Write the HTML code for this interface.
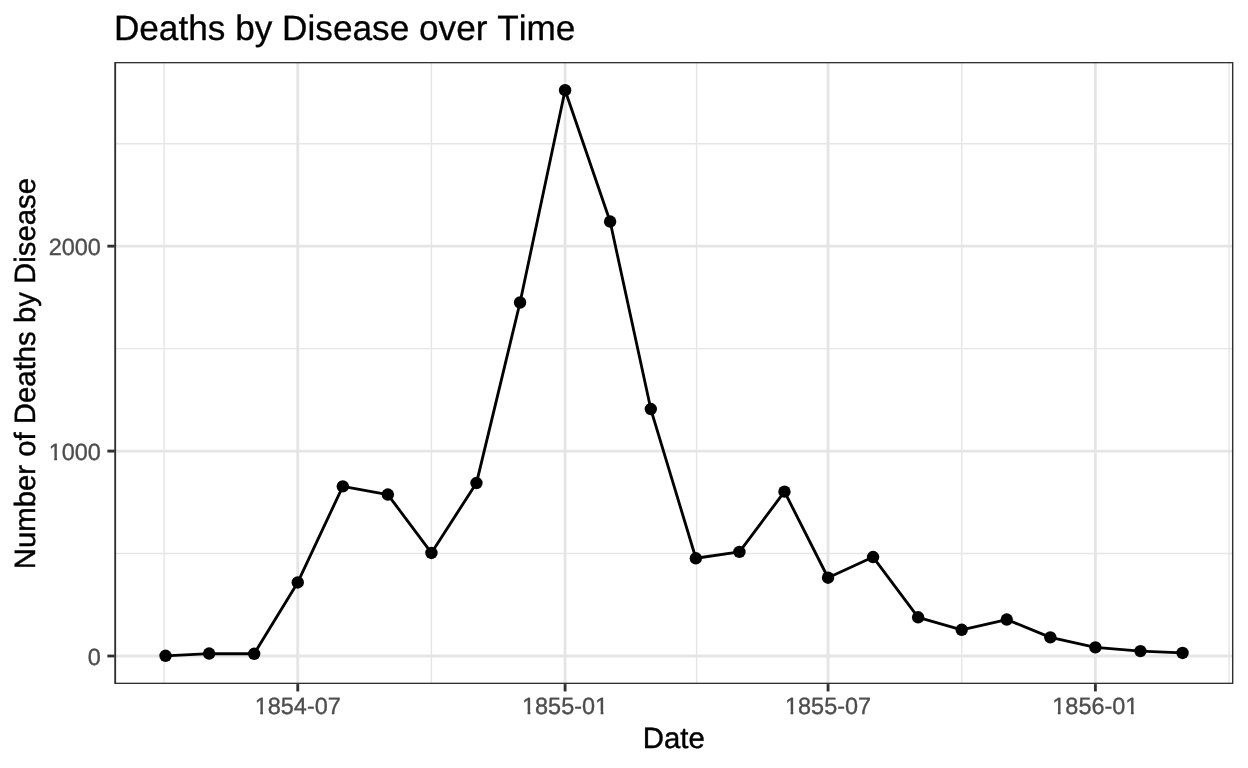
<!DOCTYPE html>
<html lang="en"><head><meta charset="utf-8"><title>Deaths by Disease over Time</title>
<style>html,body{margin:0;padding:0;background:#fff;width:1248px;height:768px;overflow:hidden}</style></head>
<body>
<svg role="img" aria-label="Deaths by Disease over Time" width="1248" height="768" viewBox="0 0 1248 768" style="display:block;position:absolute;left:0;top:0">
<rect width="1248" height="768" fill="#fff"/>
<clipPath id="pc"><rect x="114.25" y="61.90" width="1119.15" height="622.20"/></clipPath>
<g clip-path="url(#pc)">
<g stroke="#e6e6e6" stroke-width="1.42" fill="none">
<line x1="164.10" x2="164.10" y1="61.90" y2="684.10"/>
<line x1="431.42" x2="431.42" y1="61.90" y2="684.10"/>
<line x1="696.57" x2="696.57" y1="61.90" y2="684.10"/>
<line x1="961.72" x2="961.72" y1="61.90" y2="684.10"/>
<line x1="1229.04" x2="1229.04" y1="61.90" y2="684.10"/>
<line x1="114.70" x2="1233.40" y1="553.55" y2="553.55"/>
<line x1="114.70" x2="1233.40" y1="348.61" y2="348.61"/>
<line x1="114.70" x2="1233.40" y1="143.67" y2="143.67"/>
</g>
<g stroke="#e5e5e5" stroke-width="2.85" fill="none">
<line x1="297.76" x2="297.76" y1="61.90" y2="684.10"/>
<line x1="565.09" x2="565.09" y1="61.90" y2="684.10"/>
<line x1="828.05" x2="828.05" y1="61.90" y2="684.10"/>
<line x1="1095.38" x2="1095.38" y1="61.90" y2="684.10"/>
<line x1="114.70" x2="1233.40" y1="656.02" y2="656.02"/>
<line x1="114.70" x2="1233.40" y1="451.08" y2="451.08"/>
<line x1="114.70" x2="1233.40" y1="246.14" y2="246.14"/>
</g>
<polyline points="165.55,655.82 209.14,653.56 254.17,653.77 297.76,582.45 342.80,486.33 387.84,494.53 431.42,552.94 476.46,483.05 520.05,302.50 565.09,90.18 610.12,221.55 650.80,409.07 695.84,558.27 739.43,551.91 784.47,491.66 828.05,577.74 873.09,557.04 918.13,617.29 961.72,629.79 1006.75,619.54 1050.34,637.37 1095.38,647.42 1140.42,651.10 1182.55,652.95" fill="none" stroke="#000" stroke-width="2.85" stroke-linejoin="round" stroke-linecap="butt"/>
<g fill="#000">
<circle cx="165.55" cy="655.82" r="6.2"/>
<circle cx="209.14" cy="653.56" r="6.2"/>
<circle cx="254.17" cy="653.77" r="6.2"/>
<circle cx="297.76" cy="582.45" r="6.2"/>
<circle cx="342.80" cy="486.33" r="6.2"/>
<circle cx="387.84" cy="494.53" r="6.2"/>
<circle cx="431.42" cy="552.94" r="6.2"/>
<circle cx="476.46" cy="483.05" r="6.2"/>
<circle cx="520.05" cy="302.50" r="6.2"/>
<circle cx="565.09" cy="90.18" r="6.2"/>
<circle cx="610.12" cy="221.55" r="6.2"/>
<circle cx="650.80" cy="409.07" r="6.2"/>
<circle cx="695.84" cy="558.27" r="6.2"/>
<circle cx="739.43" cy="551.91" r="6.2"/>
<circle cx="784.47" cy="491.66" r="6.2"/>
<circle cx="828.05" cy="577.74" r="6.2"/>
<circle cx="873.09" cy="557.04" r="6.2"/>
<circle cx="918.13" cy="617.29" r="6.2"/>
<circle cx="961.72" cy="629.79" r="6.2"/>
<circle cx="1006.75" cy="619.54" r="6.2"/>
<circle cx="1050.34" cy="637.37" r="6.2"/>
<circle cx="1095.38" cy="647.42" r="6.2"/>
<circle cx="1140.42" cy="651.10" r="6.2"/>
<circle cx="1182.55" cy="652.95" r="6.2"/>
</g>
<rect x="114.70" y="61.90" width="1118.70" height="622.20" fill="none" stroke="#303030" stroke-width="2.85"/>
</g>
<g stroke="#303030" stroke-width="2.85">
<line x1="297.76" x2="297.76" y1="684.10" y2="691.43"/>
<line x1="565.09" x2="565.09" y1="684.10" y2="691.43"/>
<line x1="828.05" x2="828.05" y1="684.10" y2="691.43"/>
<line x1="1095.38" x2="1095.38" y1="684.10" y2="691.43"/>
<line x1="107.37" x2="114.70" y1="656.02" y2="656.02"/>
<line x1="107.37" x2="114.70" y1="451.08" y2="451.08"/>
<line x1="107.37" x2="114.70" y1="246.14" y2="246.14"/>
</g>
<g style="font-kerning:none;text-rendering:geometricPrecision" font-family="'Liberation Sans', Arial, Helvetica, sans-serif" font-size="23.47" fill="#4d4d4d" stroke="#4d4d4d" stroke-width="0.35" stroke-linejoin="round">
<text x="297.76" y="713.75" text-anchor="middle">1854-07</text>
<text x="565.09" y="713.75" text-anchor="middle">1855-01</text>
<text x="828.05" y="713.75" text-anchor="middle">1855-07</text>
<text x="1095.38" y="713.75" text-anchor="middle">1856-01</text>
<text x="100.9" y="664.72" text-anchor="end">0</text>
<text x="100.9" y="459.78" text-anchor="end">1000</text>
<text x="100.9" y="254.84" text-anchor="end">2000</text>
</g>
<g fill="#fff">
<rect x="254.81" y="711.22" width="5.41" height="4.70"/><rect x="263.04" y="711.22" width="5.23" height="4.70"/>
<rect x="522.13" y="711.22" width="5.41" height="4.70"/><rect x="530.37" y="711.22" width="5.23" height="4.70"/>
<rect x="595.21" y="711.22" width="5.41" height="4.70"/><rect x="603.45" y="711.22" width="5.23" height="4.70"/>
<rect x="785.10" y="711.22" width="5.41" height="4.70"/><rect x="793.34" y="711.22" width="5.23" height="4.70"/>
<rect x="1052.42" y="711.22" width="5.41" height="4.70"/><rect x="1060.66" y="711.22" width="5.23" height="4.70"/>
<rect x="1125.50" y="711.22" width="5.41" height="4.70"/><rect x="1133.74" y="711.22" width="5.23" height="4.70"/>
<rect x="48.80" y="457.25" width="5.41" height="4.70"/><rect x="57.04" y="457.25" width="5.23" height="4.70"/>
</g>
<g style="font-kerning:none;text-rendering:geometricPrecision" font-family="'Liberation Sans', Arial, Helvetica, sans-serif" fill="#000" stroke="#000" stroke-width="0.42" stroke-linejoin="round">
<text x="113.9" y="39.6" font-size="35.2" stroke-width="0.3">Deaths by Disease over Time</text>
<text x="673.85" y="748" font-size="29.33" text-anchor="middle">Date</text>
<text transform="translate(35.4,373.6) rotate(-90)" font-size="29.33" text-anchor="middle">Number of Deaths by Disease</text>
</g>
</svg>
</body></html>
